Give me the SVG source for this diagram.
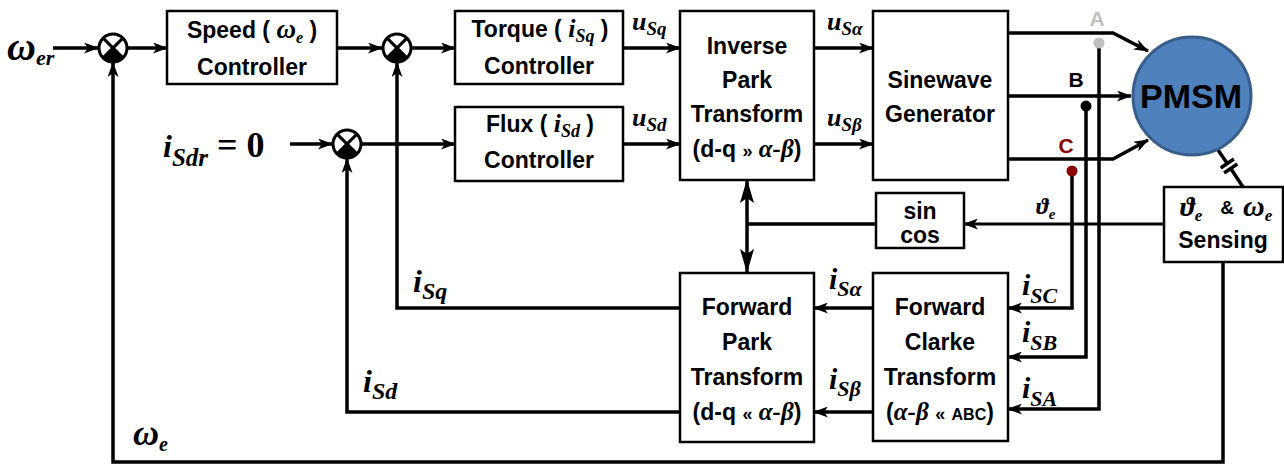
<svg xmlns="http://www.w3.org/2000/svg" width="1284" height="465" viewBox="0 0 1284 465">
<style>
.box{fill:#fff;stroke:#000;stroke-width:2.5}
.t{font-family:"Liberation Sans",Arial,sans-serif;font-weight:bold;font-size:23px;text-anchor:middle;fill:#000}
.m{font-family:"Liberation Serif","Times New Roman",serif;font-style:italic;font-weight:bold;fill:#000}
.w{fill:none;stroke:#000;stroke-width:3.5}
.wt{fill:none;stroke:#000;stroke-width:3}
.sj{fill:#fff;stroke:#000;stroke-width:3}
.x{stroke:#000;stroke-width:3}
</style>
<defs>
<marker id="ar" viewBox="0 0 15 11" refX="14" refY="5.5" markerWidth="15" markerHeight="11" markerUnits="userSpaceOnUse" orient="auto">
<path d="M0,0 L15,5.5 L0,11 L4,5.5 z" fill="#000"/>
</marker>
<marker id="ar2" viewBox="0 0 24 14" refX="23" refY="7" markerWidth="24" markerHeight="14" markerUnits="userSpaceOnUse" orient="auto-start-reverse">
<path d="M0,0 L24,7 L0,14 L5,7 z" fill="#000"/>
</marker>
</defs>
<rect width="1284" height="465" fill="#fff"/>

<g id="connectors">
<line class="w" x1="53" y1="48" x2="98" y2="48" marker-end="url(#ar)"/>
<line class="w" x1="128" y1="48" x2="167" y2="48" marker-end="url(#ar)"/>
<line class="w" x1="337" y1="48" x2="382" y2="48" marker-end="url(#ar)"/>
<line class="w" x1="412" y1="48" x2="455" y2="48" marker-end="url(#ar)"/>
<line class="w" x1="290" y1="144" x2="332" y2="144" marker-end="url(#ar)"/>
<line class="w" x1="362" y1="144" x2="455" y2="144" marker-end="url(#ar)"/>
<line class="w" x1="623" y1="48" x2="680" y2="48" marker-end="url(#ar)"/>
<line class="w" x1="623" y1="144" x2="680" y2="144" marker-end="url(#ar)"/>
<line class="w" x1="814" y1="48" x2="873" y2="48" marker-end="url(#ar)"/>
<line class="w" x1="814" y1="144" x2="873" y2="144" marker-end="url(#ar)"/>
<polyline class="w" points="1223,262 1223,462 113,462 113,63" marker-end="url(#ar)"/>
<polyline class="w" points="680,308 397,308 397,63" marker-end="url(#ar)"/>
<polyline class="w" points="680,412 347,412 347,159" marker-end="url(#ar)"/>
<line class="w" x1="873" y1="308" x2="814" y2="308" marker-end="url(#ar)"/>
<line class="w" x1="873" y1="412" x2="814" y2="412" marker-end="url(#ar)"/>
<polyline class="w" points="1072,171 1072,308 1008,308" marker-end="url(#ar)"/>
<polyline class="w" points="1086,106 1086,357 1008,357" marker-end="url(#ar)"/>
<polyline class="w" points="1099,43 1099,409 1008,409" marker-end="url(#ar)"/>
<line class="wt" x1="1164" y1="224" x2="964" y2="224" marker-end="url(#ar)"/>
<line class="w" x1="876" y1="224" x2="747" y2="224"/>
<line class="w" x1="747" y1="180" x2="747" y2="272" marker-start="url(#ar2)" marker-end="url(#ar2)"/>
<polyline class="w" points="1008,33 1113,33 1148,51" marker-end="url(#ar)"/>
<line class="w" x1="1008" y1="96" x2="1131" y2="96" marker-end="url(#ar)"/>
<polyline class="w" points="1008,159 1113,159 1148,140" marker-end="url(#ar)"/>
<line class="w" x1="1218" y1="150" x2="1227.3" y2="163.5"/>
<line class="w" x1="1230.7" y1="168.5" x2="1243" y2="187"/>
<line class="w" x1="1220.7" y1="168" x2="1233.9" y2="159"/>
<line class="w" x1="1224.1" y1="173" x2="1237.3" y2="164"/>
<circle cx="1099" cy="43" r="5.5" fill="#BFBFBF"/>
<circle cx="1086" cy="106" r="5.5" fill="#000"/>
<circle cx="1072" cy="171" r="5.5" fill="#8B0000"/>
</g>

<g id="sum1">
<circle class="sj" cx="113" cy="48" r="14"/>
<path d="M113,48 L122.9,57.9 A14,14 0 0 1 103.1,57.9 Z" fill="#000"/>
<line class="x" x1="103.1" y1="38.1" x2="122.9" y2="57.9"/>
<line class="x" x1="122.9" y1="38.1" x2="103.1" y2="57.9"/>
</g>
<g id="sum2">
<circle class="sj" cx="397" cy="48" r="14"/>
<path d="M397,48 L406.9,57.9 A14,14 0 0 1 387.1,57.9 Z" fill="#000"/>
<line class="x" x1="387.1" y1="38.1" x2="406.9" y2="57.9"/>
<line class="x" x1="406.9" y1="38.1" x2="387.1" y2="57.9"/>
</g>
<g id="sum3">
<circle class="sj" cx="347" cy="144" r="14"/>
<path d="M347,144 L356.9,153.9 A14,14 0 0 1 337.1,153.9 Z" fill="#000"/>
<line class="x" x1="337.1" y1="134.1" x2="356.9" y2="153.9"/>
<line class="x" x1="356.9" y1="134.1" x2="337.1" y2="153.9"/>
</g>

<g id="speed">
<rect class="box" x="167" y="11" width="170" height="73"/>
<text class="t" x="252" y="38">Speed ( <tspan class="m" font-size="27">ω</tspan><tspan class="m" font-size="16" dy="5">e</tspan><tspan dy="-5"> )</tspan></text>
<text class="t" x="252" y="75">Controller</text>
</g>
<g id="torque">
<rect class="box" x="455" y="11" width="168" height="73"/>
<text class="t" x="540" y="37">Torque ( <tspan class="m" font-size="26">i</tspan><tspan class="m" font-size="18" dy="5">Sq</tspan><tspan dy="-5"> )</tspan></text>
<text class="t" x="539" y="74">Controller</text>
</g>
<g id="flux">
<rect class="box" x="455" y="107" width="168" height="74"/>
<text class="t" x="540" y="132">Flux ( <tspan class="m" font-size="26">i</tspan><tspan class="m" font-size="18" dy="5">Sd</tspan><tspan dy="-5"> )</tspan></text>
<text class="t" x="539" y="168">Controller</text>
</g>
<g id="invpark">
<rect class="box" x="680" y="11" width="134" height="169"/>
<text class="t" x="747" y="54">Inverse</text>
<text class="t" x="747" y="88">Park</text>
<text class="t" x="747" y="122">Transform</text>
<text class="t" x="747" y="157">(d-q <tspan font-size="18">»</tspan> <tspan class="m" font-size="25">α-β</tspan>)</text>
</g>
<g id="sinewave">
<rect class="box" x="873" y="11" width="135" height="169"/>
<text class="t" x="940" y="88">Sinewave</text>
<text class="t" x="940" y="122">Generator</text>
</g>
<g id="pmsm">
<circle cx="1192" cy="96" r="59" fill="#4F81BD" stroke="#385D8A" stroke-width="3"/>
<text x="1191" y="108" font-family="'Liberation Sans',Arial,sans-serif" font-weight="bold" font-size="34" text-anchor="middle">PMSM</text>
</g>
<g id="phase-labels">
<text x="1097" y="26" font-family="'Liberation Sans',Arial,sans-serif" font-weight="bold" font-size="21" text-anchor="middle" fill="#BFBFBF">A</text>
<text x="1076" y="87" font-family="'Liberation Sans',Arial,sans-serif" font-weight="bold" font-size="21" text-anchor="middle" fill="#000">B</text>
<text x="1066" y="153" font-family="'Liberation Sans',Arial,sans-serif" font-weight="bold" font-size="21" text-anchor="middle" fill="#8B0000">C</text>
</g>
<g id="sincos">
<rect class="box" x="876" y="193" width="88" height="55"/>
<text class="t" x="920" y="219" font-size="21">sin</text>
<text class="t" x="920" y="243" font-size="21">cos</text>
</g>
<g id="sensing">
<rect class="box" x="1164" y="187" width="119" height="75"/>
<text class="m" x="1180" y="216" font-size="28">ϑ<tspan font-size="17" dy="5">e</tspan></text>
<text x="1227" y="214" font-family="'Liberation Sans',Arial,sans-serif" font-weight="bold" font-size="19" text-anchor="middle">&amp;</text>
<text class="m" x="1243" y="216" font-size="30">ω<tspan font-size="17" dy="5">e</tspan></text>
<text class="t" x="1223" y="248">Sensing</text>
</g>
<g id="fwdpark">
<rect class="box" x="680" y="273" width="134" height="169"/>
<text class="t" x="747" y="315">Forward</text>
<text class="t" x="747" y="350">Park</text>
<text class="t" x="747" y="385">Transform</text>
<text class="t" x="747" y="420">(d-q <tspan font-size="18">«</tspan> <tspan class="m" font-size="25">α-β</tspan>)</text>
</g>
<g id="clarke">
<rect class="box" x="873" y="273" width="135" height="168"/>
<text class="t" x="940" y="315">Forward</text>
<text class="t" x="940" y="350">Clarke</text>
<text class="t" x="940" y="385">Transform</text>
<text class="t" x="940" y="420">(<tspan class="m" font-size="25">α-β</tspan> <tspan font-size="18">«</tspan> <tspan font-size="16">ABC</tspan>)</text>
</g>

<g id="labels">
<text class="m" x="7" y="60" font-size="40">ω<tspan font-size="22" dy="5">er</tspan></text>
<text class="m" x="163" y="157" font-size="32">i<tspan font-size="25" dy="9">Sdr</tspan><tspan font-size="36" dy="-9" font-style="normal"> = 0</tspan></text>
<text class="m" x="632" y="30" font-size="26">u<tspan font-size="19" dy="5">Sq</tspan></text>
<text class="m" x="632" y="126" font-size="26">u<tspan font-size="19" dy="5">Sd</tspan></text>
<text class="m" x="827" y="30" font-size="26">u<tspan font-size="19" dy="5">Sα</tspan></text>
<text class="m" x="827" y="126" font-size="26">u<tspan font-size="19" dy="5">Sβ</tspan></text>
<text class="m" x="413" y="292" font-size="32">i<tspan font-size="24" dy="7">Sq</tspan></text>
<text class="m" x="363" y="392" font-size="32">i<tspan font-size="24" dy="7">Sd</tspan></text>
<text class="m" x="133" y="445" font-size="36">ω<tspan font-size="20" dy="6">e</tspan></text>
<text class="m" x="829" y="289" font-size="30">i<tspan font-size="22" dy="7">Sα</tspan></text>
<text class="m" x="829" y="389" font-size="30">i<tspan font-size="22" dy="7">Sβ</tspan></text>
<text class="m" x="1022" y="295" font-size="30">i<tspan font-size="22" dy="8">SC</tspan></text>
<text class="m" x="1022" y="342" font-size="30">i<tspan font-size="22" dy="8">SB</tspan></text>
<text class="m" x="1022" y="398" font-size="30">i<tspan font-size="22" dy="8">SA</tspan></text>
<text class="m" x="1036" y="214" font-size="24">ϑ<tspan font-size="15" dy="5">e</tspan></text>
</g>
</svg>
